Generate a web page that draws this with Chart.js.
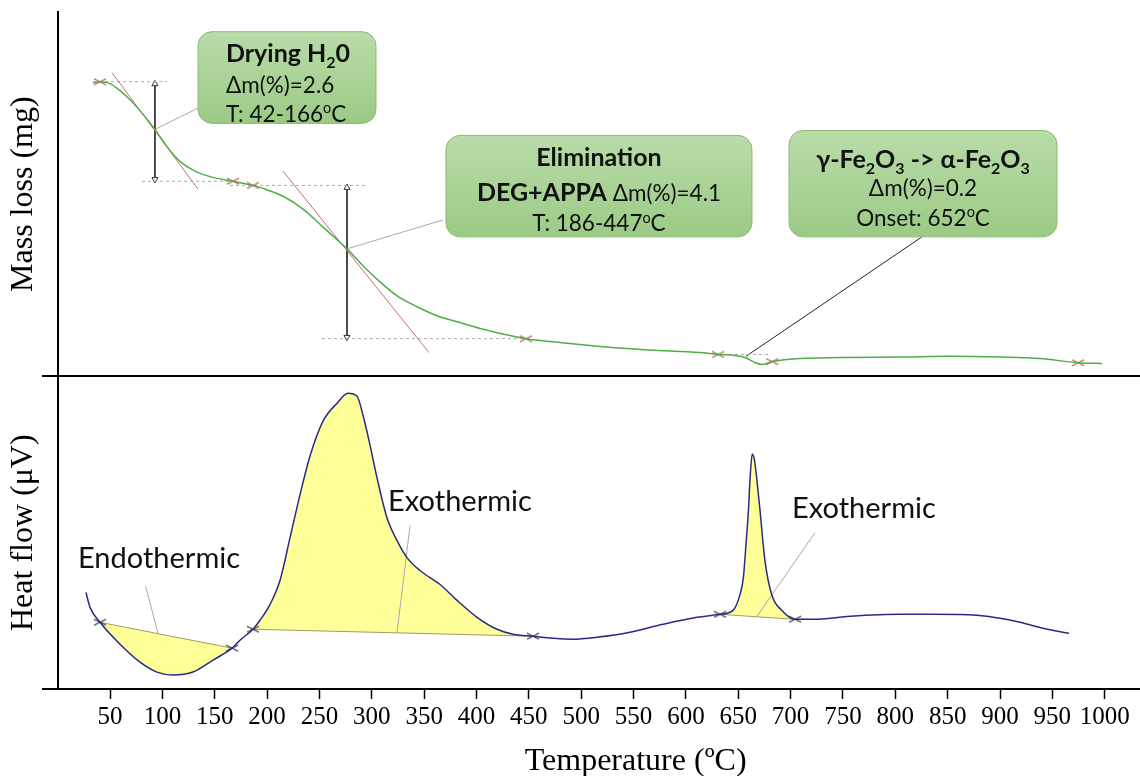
<!DOCTYPE html>
<html>
<head>
<meta charset="utf-8">
<title>TG / DTA</title>
<script src="https://cdn.jsdelivr.net/npm/chart.js@4.4.1/dist/chart.umd.min.js"></script>
<style>
  html, body { margin: 0; padding: 0; background: #fff; }
  #wrap { width: 1140px; height: 776px; }
</style>
</head>
<body>
<div id="wrap"><canvas id="chart-canvas" width="1140" height="776"></canvas></div>
<script>
// values, temperature in ºC
var tgTemp = [33.8, 40.4, 50.0, 59.5, 69.1, 78.6, 86.2, 92.9, 99.6, 107.2, 116.8, 131.1, 147.4, 167.4, 186.5, 196.1,
  215.2, 234.3, 253.4, 276.3, 291.6, 307.8, 324.1, 343.2, 362.3, 381.4, 403.4, 447.3, 479.8, 518.0, 565.8, 613.5,
  630.7, 647.0, 656.5, 666.1, 672.8, 682.4, 694.8, 709.1, 747.3, 804.6, 852.4, 900.1, 938.3, 974.5, 997.4];
// mass, % of the starting mass
var tgMass = [99.97, 100.0, 99.95, 99.76, 99.52, 99.23, 98.97, 98.73, 98.46, 98.17, 97.88, 97.62, 97.46, 97.35, 97.24, 97.16,
  96.95, 96.61, 96.13, 95.55, 95.10, 94.67, 94.30, 94.01, 93.77, 93.61, 93.43, 93.16, 93.06, 92.95, 92.86, 92.79,
  92.74, 92.71, 92.66, 92.52, 92.47, 92.55, 92.60, 92.63, 92.66, 92.67, 92.69, 92.67, 92.63, 92.52, 92.50];

var dtaTemp = [27.0, 30.9, 40.4, 59.5, 78.6, 94.8, 110.1, 129.2, 148.3, 166.5, 174.1, 186.5, 193.2, 202.8, 212.3, 221.9,
  231.4, 241.0, 253.4, 266.8, 277.3, 285.9, 291.6, 298.3, 305.0, 314.5, 324.1, 333.6, 346.0, 365.2, 381.4, 400.5,
  419.6, 434.9, 454.0, 473.1, 491.3, 515.1, 546.6, 578.1, 610.6, 632.6, 645.0, 651.7, 654.9, 657.5, 659.7, 661.3,
  663.4, 665.5, 667.6, 670.8, 675.5, 681.9, 691.5, 704.2, 721.4, 756.8, 804.5, 836.0, 878.1, 900.0, 919.1, 941.1, 965.9];
// heat flow, µV
var dtaSignal = [4.5, 3.0, 1.5, -0.7, -2.5, -3.5, -3.8, -3.5, -2.3, -1.1, -0.3, 0.8, 1.7, 3.3, 5.7, 10.0,
  14.3, 18.2, 21.7, 23.5, 24.5, 24.2, 22.3, 19.3, 16.0, 12.0, 9.7, 8.0, 6.7, 5.3, 3.7, 2.0,
  0.8, 0.3, 0.1, -0.1, -0.2, 0.0, 0.5, 1.3, 2.0, 2.3, 2.7, 4.3, 6.0, 9.5, 12.7, 16.0,
  18.4, 17.8, 16.0, 12.7, 7.7, 4.3, 2.7, 1.8, 1.8, 2.1, 2.3, 2.3, 2.2, 1.9, 1.5, 0.9, 0.4];

var tickValues = [50, 100, 150, 200, 250, 300, 350, 400, 450, 500, 550, 600, 650, 700, 750, 800, 850, 900, 950, 1000];

// analysis marks on the TG curve
var tgMarkT = [40.4, 167.4, 186.5, 447.3, 630.7, 682.4, 974.5];
var tgMarkM = [100.0, 97.35, 97.24, 93.16, 92.74, 92.55, 92.52];

// peak integration limits on the DTA curve (start, end)
var peakStart = [40.4, 186.5, 632.6];
var peakEnd = [166.5, 454.0, 704.2];

// tangents at the two inflection points
var tangentT = [[51.9, 134.0], [215.2, 354.6]];
var tangentM = [[100.24, 97.14], [97.62, 92.79]];

// dashed step levels
var stepT = [[33.8, 104.4], [80.5, 169.4], [164.5, 296.3], [252.4, 451.0], [629.7, 680.3]];
var stepM = [100.0, 97.35, 97.24, 93.16, 92.74];

// step height arrows
var arrowT = [92.9, 276.3];
var arrowM = [[99.94, 97.4], [97.18, 93.2]];

// call-out boxes (temperature span, mass span)
var boxT0 = [134.0, 370.8, 698.5];
var boxT1 = [304.0, 663.1, 954.4];
var boxM0 = [101.33, 98.57, 98.70];
var boxM1 = [98.89, 95.87, 95.87];
var boxAlign = ['left', 'center', 'center'];
var boxText = [
  [[['Drying H', 'b'], ['2', 'b sub'], ['0', 'b']],
   [['Δm(%)=2.6', '']],
   [['T: 42-166', ''], ['o', 'sup'], ['C', '']]],
  [[['Elimination', 'b']],
   [['DEG+APPA', 'b'], [' Δm(%)=4.1', '']],
   [['T: 186-447', ''], ['o', 'sup'], ['C', '']]],
  [[['γ-Fe', 'b'], ['2', 'b sub'], ['O', 'b'], ['3', 'b sub'], [' -> α-Fe', 'b'], ['2', 'b sub'], ['O', 'b'], ['3', 'b sub']],
   [['Δm(%)=0.2', '']],
   [['Onset: 652', ''], ['o', 'sup'], ['C', '']]]
];
var boxLineY = [[30, 61, 90], [31, 66, 96], [37, 65, 95]];

// leader lines from the curves to the boxes
var leaderT = [[92.9, 135.0], [276.3, 368.0], [657.4, 825.5]];
var leaderM = [[98.73, 99.31], [95.55, 96.32], [92.69, 95.87]];

// DTA labels and pointers
var peakLabels = ['Endothermic', 'Exothermic', 'Exothermic'];
var labelT = [19.4, 315.5, 701.3];
var labelV = [7.0, 12.7, 12.0];
var pointerT = [[84.0, 95.8], [336.5, 324.1], [723.3, 667.9]];
var pointerV = [[5.1, 0.4], [11.2, 0.5], [10.5, 2.1]];

// x axis title sits a little right of the axis centre in the original
var xTitle = 'Temperature (ºC)';
var xTitleAt = 552;

function pts(xs, ys) {
  return xs.map(function (x, i) { return {x: x, y: ys[i]}; });
}

function valueAt(xs, ys, t) {
  return ys[xs.indexOf(t)];
}

function makeCross(color) {
  var c = document.createElement('canvas');
  c.width = 14; c.height = 8;
  var g = c.getContext('2d');
  g.strokeStyle = color; g.lineWidth = 1.1;
  g.beginPath();
  g.moveTo(1, 1); g.lineTo(13, 7);
  g.moveTo(1, 7); g.lineTo(13, 1);
  g.stroke();
  return c;
}

var lineBase = {borderWidth: 1, pointRadius: 0, fill: false, tension: 0};

var datasets = [];
datasets.push(Object.assign({}, lineBase, {
  label: 'TG', data: pts(tgTemp, tgMass), yAxisID: 'yTG',
  borderColor: '#4fae47', borderWidth: 1.5, cubicInterpolationMode: 'monotone'
}));
datasets.push(Object.assign({}, lineBase, {
  label: 'DTA', data: pts(dtaTemp, dtaSignal), yAxisID: 'yDTA',
  borderColor: '#2a2a86', borderWidth: 1.5, cubicInterpolationMode: 'monotone'
}));
datasets.push(Object.assign({}, lineBase, {
  label: 'TG marks', data: pts(tgMarkT, tgMarkM), yAxisID: 'yTG', showLine: false,
  pointRadius: 6, pointStyle: makeCross('#b4554b')
}));
var dtaMarks = [];
peakStart.forEach(function (t, i) {
  dtaMarks.push({x: t, y: valueAt(dtaTemp, dtaSignal, t)});
  dtaMarks.push({x: peakEnd[i], y: valueAt(dtaTemp, dtaSignal, peakEnd[i])});
});
datasets.push(Object.assign({}, lineBase, {
  label: 'DTA marks', data: dtaMarks, yAxisID: 'yDTA', showLine: false,
  pointRadius: 6, pointStyle: makeCross('#333333')
}));
tangentT.forEach(function (t, i) {
  datasets.push(Object.assign({}, lineBase, {
    label: 'tangent', data: pts(t, tangentM[i]), yAxisID: 'yTG', borderColor: '#c27070'
  }));
});
stepT.forEach(function (t, i) {
  datasets.push(Object.assign({}, lineBase, {
    label: 'step', data: pts(t, [stepM[i], stepM[i]]), yAxisID: 'yTG',
    borderColor: '#a8a8a8', borderDash: [3, 3]
  }));
});
arrowT.forEach(function (t, i) {
  datasets.push(Object.assign({}, lineBase, {
    label: 'arrow', data: pts([t, t], arrowM[i]), yAxisID: 'yTG', borderColor: '#333',
    pointRadius: 3.5, pointStyle: 'triangle', pointRotation: [0, 180],
    pointBackgroundColor: '#fff', pointBorderColor: '#333'
  }));
});
leaderT.forEach(function (t, i) {
  datasets.push(Object.assign({}, lineBase, {
    label: 'leader', data: pts(t, leaderM[i]), yAxisID: 'yTG',
    borderColor: i === 2 ? '#222' : '#b8a0b0'
  }));
});
pointerT.forEach(function (t, i) {
  datasets.push(Object.assign({}, lineBase, {
    label: 'pointer', data: pts(t, pointerV[i]), yAxisID: 'yDTA', borderColor: '#b0a0b8'
  }));
});
// integrated peaks: baseline first, then the curve slice filled down to it
peakStart.forEach(function (t0, i) {
  var t1 = peakEnd[i];
  datasets.push(Object.assign({}, lineBase, {
    label: 'baseline', yAxisID: 'yDTA', borderColor: '#a09a60',
    data: [{x: t0, y: valueAt(dtaTemp, dtaSignal, t0)}, {x: t1, y: valueAt(dtaTemp, dtaSignal, t1)}]
  }));
  var xs = [], ys = [];
  dtaTemp.forEach(function (t, k) {
    if (t >= t0 && t <= t1) { xs.push(t); ys.push(dtaSignal[k]); }
  });
  datasets.push(Object.assign({}, lineBase, {
    label: 'peak area', data: pts(xs, ys), yAxisID: 'yDTA', borderWidth: 0,
    cubicInterpolationMode: 'monotone', fill: '-1', backgroundColor: '#ffff99'
  }));
});

function drawRich(ctx, segs, x, y, align) {
  var parts = segs.map(function (s) {
    var st = s[1];
    var bold = st.indexOf('b') >= 0;
    var base = bold ? 25 : 22.5;
    var small = st.indexOf('sub') >= 0 || st.indexOf('sup') >= 0;
    var size = small ? base * 0.64 : base;
    var font = (bold ? 'bold ' : '') + size + 'px Lato';
    ctx.font = font;
    var dy = st.indexOf('sub') >= 0 ? base * 0.24 : (st.indexOf('sup') >= 0 ? -base * 0.38 : 0);
    return {t: s[0], font: font, w: ctx.measureText(s[0]).width, dy: dy};
  });
  var total = parts.reduce(function (a, p) { return a + p.w; }, 0);
  var cx = align === 'center' ? x - total / 2 : x;
  ctx.textAlign = 'left';
  ctx.textBaseline = 'alphabetic';
  parts.forEach(function (p) {
    ctx.font = p.font;
    ctx.fillText(p.t, cx, y + p.dy);
    cx += p.w;
  });
}

function roundRect(ctx, x, y, w, h, r) {
  ctx.beginPath();
  ctx.moveTo(x + r, y);
  ctx.lineTo(x + w - r, y);
  ctx.arcTo(x + w, y, x + w, y + r, r);
  ctx.lineTo(x + w, y + h - r);
  ctx.arcTo(x + w, y + h, x + w - r, y + h, r);
  ctx.lineTo(x + r, y + h);
  ctx.arcTo(x, y + h, x, y + h - r, r);
  ctx.lineTo(x, y + r);
  ctx.arcTo(x, y, x + r, y, r);
  ctx.closePath();
}

var serif = 'Liberation Serif';

var annotate = {
  id: 'annotate',
  afterDraw: function (chart) {
    var ctx = chart.ctx;
    var xs = chart.scales.x, yt = chart.scales.yTG, yd = chart.scales.yDTA;
    ctx.save();
    // panel split and the left stub of both horizontal axes
    ctx.strokeStyle = '#000';
    ctx.lineWidth = 2;
    ctx.beginPath();
    ctx.moveTo(42, Math.round(yt.bottom)); ctx.lineTo(chart.width, Math.round(yt.bottom));
    ctx.moveTo(42, Math.round(xs.top)); ctx.lineTo(xs.left, Math.round(xs.top));
    ctx.stroke();

    boxT0.forEach(function (t0, i) {
      var x0 = xs.getPixelForValue(t0), x1 = xs.getPixelForValue(boxT1[i]);
      var y0 = yt.getPixelForValue(boxM0[i]), y1 = yt.getPixelForValue(boxM1[i]);
      var grad = ctx.createLinearGradient(0, y0, 0, y1);
      grad.addColorStop(0, '#b9dcaa');
      grad.addColorStop(1, '#9bca85');
      roundRect(ctx, x0, y0, x1 - x0, y1 - y0, 14);
      ctx.fillStyle = grad;
      ctx.fill();
      ctx.strokeStyle = '#89bd6c';
      ctx.lineWidth = 1;
      ctx.stroke();
      ctx.fillStyle = '#111';
      var tx = boxAlign[i] === 'center' ? (x0 + x1) / 2 : x0 + 28;
      boxText[i].forEach(function (line, k) {
        drawRich(ctx, line, tx, y0 + boxLineY[i][k], boxAlign[i]);
      });
    });

    ctx.fillStyle = '#111';
    ctx.font = '29px Lato';
    ctx.textAlign = 'left';
    ctx.textBaseline = 'alphabetic';
    peakLabels.forEach(function (s, i) {
      ctx.fillText(s, xs.getPixelForValue(labelT[i]), yd.getPixelForValue(labelV[i]));
    });

    ctx.fillStyle = '#000';
    ctx.font = '32px ' + serif;
    ctx.textAlign = 'center';
    ctx.fillText(xTitle, xs.getPixelForValue(xTitleAt), chart.height - 6);
    ctx.restore();
  }
};

var chart = new Chart(document.getElementById('chart-canvas').getContext('2d'), {
  type: 'line',
  data: {datasets: datasets},
  options: {
    responsive: false,
    animation: false,
    events: [],
    layout: {autoPadding: false, padding: {left: 4, top: 12, right: 0, bottom: 41}},
    plugins: {legend: {display: false}, tooltip: {enabled: false}},
    scales: {
      x: {
        type: 'linear', position: 'bottom', min: 0, max: 1033.7,
        afterBuildTicks: function (axis) {
          axis.ticks = tickValues.map(function (v) { return {value: v}; });
        },
        ticks: {
          font: {family: serif, size: 25}, color: '#000', padding: 3,
          maxRotation: 0, autoSkip: false,
          callback: function (v) { return String(v); }
        },
        grid: {display: true, drawOnChartArea: false, drawTicks: true, tickLength: 10, tickColor: '#000', tickWidth: 1.5},
        border: {color: '#000', width: 2},
        title: {display: false}
      },
      yDTA: {
        type: 'linear', position: 'left', stack: 'panels', stackWeight: 314,
        min: -5.2, max: 26.2,
        ticks: {display: false},
        grid: {display: false, drawTicks: false},
        border: {color: '#000', width: 2},
        title: {display: true, text: 'Heat flow (μV)', color: '#000',
          font: {family: serif, size: 32}, padding: {top: 0, bottom: 15.3}}
      },
      yTG: {
        type: 'linear', position: 'left', stack: 'panels', stackWeight: 366,
        min: 92.156, max: 101.855,
        ticks: {display: false},
        grid: {display: false, drawTicks: false},
        border: {color: '#000', width: 2},
        title: {display: true, text: 'Mass loss (mg)', color: '#000',
          font: {family: serif, size: 32}, padding: {top: 0, bottom: 15.3}}
      }
    }
  },
  plugins: [annotate]
});
</script>
</body>
</html>
